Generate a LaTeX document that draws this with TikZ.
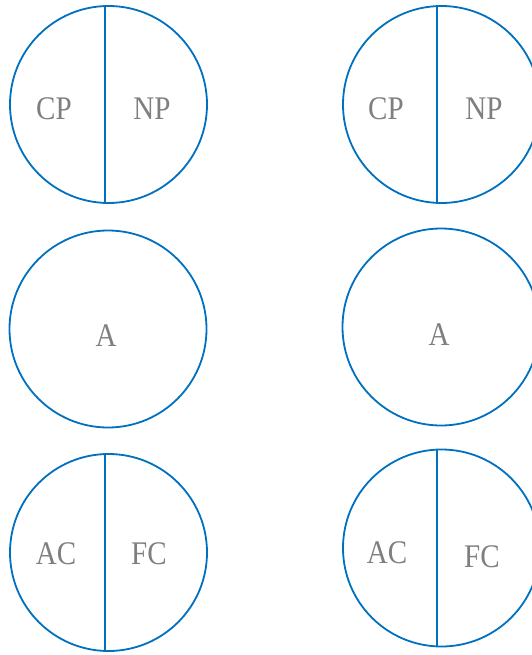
\documentclass[tikz,border=0pt]{standalone}
\usepackage{fontspec}
\setmainfont[FakeStretch=0.88]{Liberation Serif}
\usetikzlibrary{calc}
\definecolor{ringblue}{HTML}{0070C0}
\definecolor{labelgray}{HTML}{7F7F7F}
\tikzset{
  ring/.style={circle, draw=ringblue, line width=1.8pt, minimum size=197pt, inner sep=0pt},
  divider/.style={draw=ringblue, line width=1.8pt},
  lbl/.style={text=labelgray, font=\fontsize{33}{38}\selectfont, inner sep=0pt, anchor=base}
}
\begin{document}
\begin{tikzpicture}[x=1pt, y=-1pt]
  \useasboundingbox (0,0) rectangle (532,655);
  % left column
  \node[ring] (l1) at (108.5,104.5) {};
  \node[ring] (l2) at (108,329) {};
  \node[ring] (l3) at (108.5,552.5) {};
  % right column
  \node[ring] (r1) at (441.5,104.5) {};
  \node[ring] (r2) at (441,327) {};
  \node[ring] (r3) at (441.5,548) {};
  % split lines
  \draw[divider] ($(l1.north)+(-3.5,0)$) -- ($(l1.south)+(-3.5,0)$);
  \draw[divider] ($(l3.north)+(-3.5,0)$) -- ($(l3.south)+(-3.5,0)$);
  \draw[divider] ($(r1.north)+(-4.5,0)$) -- ($(r1.south)+(-4.5,0)$);
  \draw[divider] ($(r3.north)+(-4.5,0)$) -- ($(r3.south)+(-4.5,0)$);
  % labels
  \node[lbl] (l1a) at (54,120) {CP};
  \node[lbl] (l1b) at (152,120) {NP};
  \node[lbl] (l2a) at (106,346) {A};
  \node[lbl] (l3a) at (56,564) {AC};
  \node[lbl] (l3b) at (149,564) {FC};
  \node[lbl] (r1a) at (386,120) {CP};
  \node[lbl] (r1b) at (484,120) {NP};
  \node[lbl] (r2a) at (439,345) {A};
  \node[lbl] (r3a) at (387,563) {AC};
  \node[lbl] (r3b) at (482,567) {FC};
\end{tikzpicture}
\end{document}
